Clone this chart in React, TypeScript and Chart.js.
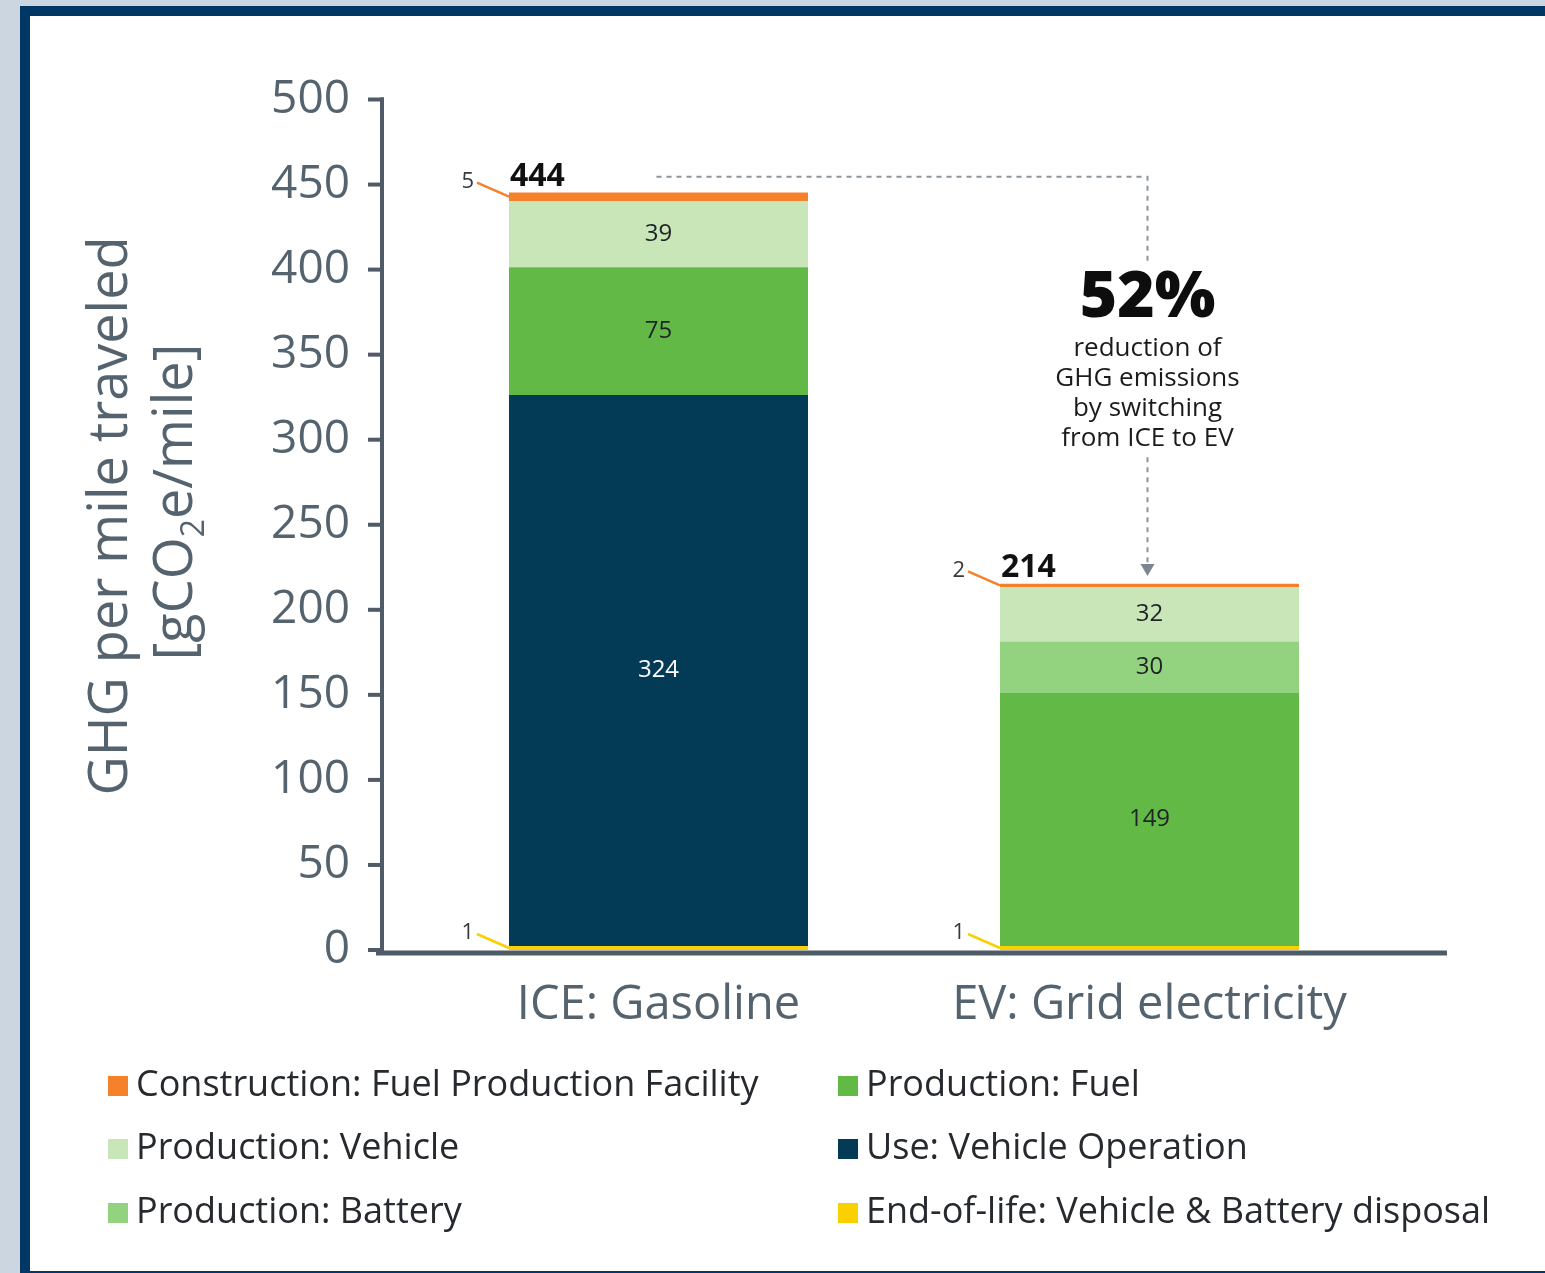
import React, { useEffect, useRef } from 'react';
import { Chart, registerables } from 'chart.js';

Chart.register(...registerables);

// ---------- data ----------
const categories = ['ICE: Gasoline', 'EV: Grid electricity'];

const endOfLife = [1, 1];
const useOperation = [324, 0];
const productionFuel = [75, 149];
const productionBattery = [0, 30];
const productionVehicle = [39, 32];
const constructionFacility = [5, 2];

const seriesNames = [
  'End-of-life: Vehicle & Battery disposal',
  'Use: Vehicle Operation',
  'Production: Fuel',
  'Production: Battery',
  'Production: Vehicle',
  'Construction: Fuel Production Facility',
];
const seriesValues = [endOfLife, useOperation, productionFuel, productionBattery, productionVehicle, constructionFacility];
const seriesColors = ['#fbd000', '#033b57', '#62b946', '#93d27e', '#c9e6b8', '#f5822a'];

// legend, row by row (two columns)
const legendOrder = [5, 2, 4, 1, 3, 0];

const yTickMax = 500;
const yTickStep = 50;

const reductionHeadline = '52%';
const reductionLines = ['reduction of', 'GHG emissions', 'by switching', 'from ICE to EV'];

const yTitleLine1 = 'GHG per mile traveled';
const yTitleLine2 = ['[gCO', '2', 'e/mile]'];

// ---------- styles ----------
const FONT = "'Open Sans', 'DejaVu Sans', sans-serif";
const AXIS_COLOR = '#4f5b66';
const AXIS_TEXT = '#55636e';
const DARK_TEXT = '#1f2328';

const framePlugin = {
  id: 'frame',
  beforeDraw(chart: any) {
    const { ctx, width, height } = chart;
    ctx.save();
    ctx.fillStyle = '#ccd6e0';
    ctx.fillRect(0, 0, width, height);
    ctx.fillStyle = '#003764';
    ctx.fillRect(20, 6, width - 20, height - 6);
    ctx.fillStyle = '#ffffff';
    ctx.fillRect(30, 16, width - 30, height - 18);
    ctx.restore();
  },
};

const overlayPlugin = {
  id: 'overlay',
  afterDraw(chart: any) {
    const { ctx, chartArea: ca } = chart;
    const yS = chart.scales.y;
    ctx.save();

    // ---- axes ----
    const axisX = ca.left - 31;
    const topTick = yS.getPixelForValue(yTickMax);
    ctx.strokeStyle = AXIS_COLOR;
    ctx.lineWidth = 4;
    ctx.beginPath();
    ctx.moveTo(axisX, topTick - 2);
    ctx.lineTo(axisX, ca.bottom + 2);
    ctx.stroke();
    yS.ticks.forEach((t: any) => {
      const py = yS.getPixelForValue(t.value);
      ctx.beginPath();
      ctx.moveTo(axisX - 14, py);
      ctx.lineTo(axisX + 2, py);
      ctx.stroke();
    });
    ctx.lineWidth = 5;
    ctx.beginPath();
    ctx.moveTo(axisX - 6, ca.bottom + 3);
    ctx.lineTo(ca.right + 52, ca.bottom + 3);
    ctx.stroke();

    // ---- y axis title ----
    ctx.fillStyle = AXIS_TEXT;
    ctx.textBaseline = 'alphabetic';
    ctx.save();
    ctx.translate(axisX - 255, 516);
    ctx.rotate(-Math.PI / 2);
    ctx.font = `54px ${FONT}`;
    ctx.textAlign = 'center';
    ctx.fillText(yTitleLine1, 0, 0);
    ctx.restore();

    ctx.save();
    ctx.translate(axisX - 190, 502);
    ctx.rotate(-Math.PI / 2);
    ctx.textAlign = 'left';
    const bigF = `54px ${FONT}`;
    const subF = `32px ${FONT}`;
    ctx.font = bigF;
    const w1 = ctx.measureText(yTitleLine2[0]).width;
    const w3 = ctx.measureText(yTitleLine2[2]).width;
    ctx.font = subF;
    const w2 = ctx.measureText(yTitleLine2[1]).width;
    let cx = -(w1 + w2 + w3) / 2;
    ctx.font = bigF;
    ctx.fillText(yTitleLine2[0], cx, 0);
    cx += w1;
    ctx.font = subF;
    ctx.fillText(yTitleLine2[1], cx, 12);
    cx += w2;
    ctx.font = bigF;
    ctx.fillText(yTitleLine2[2], cx, 0);
    ctx.restore();

    // ---- segment labels ----
    const metas = chart.data.datasets.map((_: any, i: number) => chart.getDatasetMeta(i));
    metas.forEach((meta: any, di: number) => {
      meta.data.forEach((el: any, ci: number) => {
        const v = seriesValues[di][ci];
        if (!v) return;
        const { x, y, base, width } = el.getProps(['x', 'y', 'base', 'width'], true);
        const mid = (y + base) / 2;
        if (v >= 10) {
          ctx.font = `24px ${FONT}`;
          ctx.textAlign = 'center';
          ctx.textBaseline = 'middle';
          ctx.fillStyle = di === 1 ? '#ffffff' : DARK_TEXT;
          ctx.fillText(String(v), x, mid);
        } else {
          const left = x - width / 2;
          ctx.strokeStyle = seriesColors[di];
          ctx.lineWidth = 2.5;
          ctx.beginPath();
          ctx.moveTo(left - 32, mid - 14);
          ctx.lineTo(left, mid);
          ctx.stroke();
          ctx.font = `22px ${FONT}`;
          ctx.textAlign = 'right';
          ctx.textBaseline = 'middle';
          ctx.fillStyle = '#333a40';
          ctx.fillText(String(v), left - 35, mid - 15);
        }
      });
    });

    // ---- totals ----
    const topMeta = metas[metas.length - 1];
    const totals = categories.map((_, ci) => seriesValues.reduce((s, arr) => s + arr[ci], 0));
    const totalPos = topMeta.data.map((el: any, ci: number) => {
      const { x, width } = el.getProps(['x', 'width'], true);
      const py = yS.getPixelForValue(totals[ci]);
      return { x, left: x - width / 2, top: py };
    });
    ctx.font = `700 32px ${FONT}`;
    ctx.textAlign = 'left';
    ctx.textBaseline = 'middle';
    ctx.fillStyle = '#111111';
    totalPos.forEach((p: any, ci: number) => {
      ctx.fillText(String(totals[ci]), p.left + 1, p.top - 18);
    });

    // ---- connector ----
    const a = totalPos[0];
    const b = totalPos[1];
    const lineY = a.top - 18;
    const tipY = b.top - 10;
    const midY = (lineY + tipY) / 2;
    ctx.strokeStyle = '#8c959d';
    ctx.lineWidth = 2;
    ctx.setLineDash([5, 5]);
    ctx.beginPath();
    ctx.moveTo(a.x - 2, lineY);
    ctx.lineTo(b.x - 2, lineY);
    ctx.lineTo(b.x - 2, midY - 113);
    ctx.moveTo(b.x - 2, midY + 81);
    ctx.lineTo(b.x - 2, tipY - 12);
    ctx.stroke();
    ctx.setLineDash([]);
    ctx.fillStyle = '#7d868e';
    ctx.beginPath();
    ctx.moveTo(b.x - 9, tipY - 12);
    ctx.lineTo(b.x + 5, tipY - 12);
    ctx.lineTo(b.x - 2, tipY);
    ctx.closePath();
    ctx.fill();

    // ---- reduction note ----
    ctx.textAlign = 'center';
    ctx.textBaseline = 'middle';
    ctx.fillStyle = '#0d0d0d';
    ctx.font = `800 64px ${FONT}`;
    ctx.fillText(reductionHeadline, b.x - 2, midY - 78);
    ctx.font = `26px ${FONT}`;
    ctx.fillStyle = '#1b1b1b';
    reductionLines.forEach((ln, i) => {
      ctx.fillText(ln, b.x - 2, midY - 28 + i * 30);
    });

    // ---- legend ----
    const colX = [108, 838];
    const rowY = [1086, 1149, 1213];
    ctx.font = `36px ${FONT}`;
    ctx.textAlign = 'left';
    ctx.textBaseline = 'middle';
    legendOrder.forEach((si, k) => {
      const col = k % 2;
      const row = Math.floor(k / 2);
      const lx = colX[col];
      const ly = rowY[row];
      ctx.fillStyle = seriesColors[si];
      ctx.fillRect(lx, ly - 10, 20, 20);
      ctx.fillStyle = '#262a2e';
      ctx.fillText(seriesNames[si], lx + 28, ly);
    });

    ctx.restore();
  },
};

export default function App() {
  const ref = useRef<HTMLCanvasElement>(null);

  useEffect(() => {
    if (!ref.current) return;
    Chart.defaults.font.family = FONT;
    const chart = new Chart(ref.current, {
      type: 'bar',
      data: {
        labels: categories,
        datasets: seriesNames.map((name, i) => ({
          label: name,
          data: seriesValues[i],
          backgroundColor: seriesColors[i],
          borderWidth: 0,
          minBarLength: i === 0 ? 4 : 0,
        })),
      },
      options: {
        responsive: false,
        animation: false,
        layout: { padding: { left: 0, top: 91, right: 150, bottom: 223 } },
        datasets: { bar: { categoryPercentage: 1, barPercentage: 0.609 } },
        plugins: {
          legend: { display: false },
          tooltip: { enabled: false },
          title: { display: false },
        },
        scales: {
          x: {
            stacked: true,
            grid: { display: false, drawTicks: false },
            border: { display: false },
            ticks: { color: AXIS_TEXT, font: { size: 47, family: FONT }, padding: 27 },
            afterFit: (s: any) => {
              s.height = 100;
            },
          },
          y: {
            stacked: true,
            min: 0,
            max: 505,
            grid: { display: false, drawTicks: false },
            border: { display: false },
            ticks: {
              stepSize: yTickStep,
              includeBounds: false,
              color: AXIS_TEXT,
              font: { size: 46, family: FONT },
              padding: 63,
            },
            afterFit: (s: any) => {
              s.width = 413;
            },
          },
        },
      } as any,
      plugins: [framePlugin, overlayPlugin],
    });
    return () => chart.destroy();
  }, []);

  return (
    <div style={{ position: 'absolute', left: 0, top: 0, width: 1545, height: 1273, overflow: 'hidden' }}>
      <canvas ref={ref} width={1545} height={1273} style={{ display: 'block', width: 1545, height: 1273 }} />
    </div>
  );
}
